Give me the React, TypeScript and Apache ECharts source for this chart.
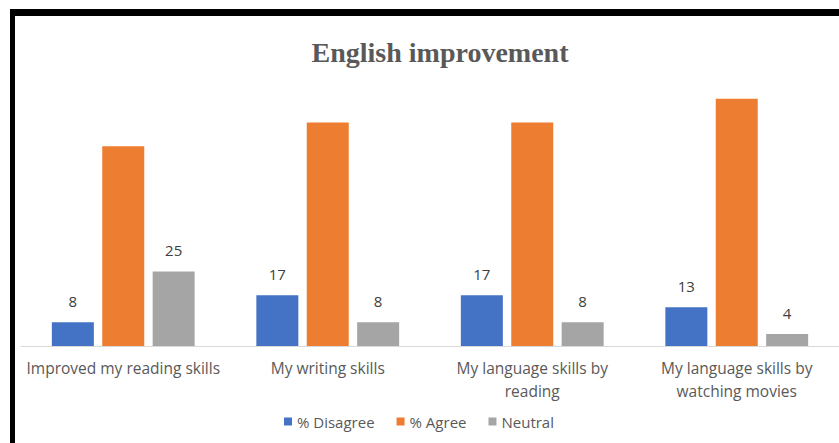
import React, { useEffect, useRef } from "react";
import * as echarts from "echarts";

const categories = [
  "Improved my reading skills",
  "My writing skills",
  "My language skills by\nreading",
  "My language skills by\nwatching movies",
];
const disagree = [8, 17, 17, 13];
const agree = [67, 75, 75, 83];
const neutral = [25, 8, 8, 4];
const seriesNames = ["% Disagree", "% Agree", "Neutral"];
const colors = ["#4472C4", "#ED7D31", "#A5A5A5"];

export default function App() {
  const ref = useRef<HTMLDivElement>(null);
  useEffect(() => {
    if (!ref.current) return;
    const chart = echarts.init(ref.current, null, { renderer: "svg" });
    const font = "'Open Sans', sans-serif";
    const mk = (name: string, data: number[], color: string, showLabel: boolean) => ({
      name,
      type: "bar",
      data,
      barWidth: 42,
      barGap: "20%",
      itemStyle: { color },
      label: {
        show: showLabel,
        position: "top",
        distance: 14,
        color: "#404040",
        fontSize: 15,
        fontFamily: font,
      },
    });
    chart.setOption({
      animation: false,
      backgroundColor: "#ffffff",
      title: {
        text: "English improvement",
        left: 435,
        textAlign: "center",
        top: 33,
        textStyle: {
          fontFamily: "'Liberation Serif', 'DejaVu Serif', serif",
          fontWeight: "bold",
          fontSize: 28,
          color: "#595959",
        },
      },
      legend: {
        data: seriesNames,
        left: 279,
        top: 409,
        icon: "rect",
        itemWidth: 8,
        itemHeight: 8,
        itemGap: 22,
        textStyle: { color: "#595959", fontSize: 15, fontFamily: font },
      },
      grid: { left: 21, width: 820, top: 48, bottom: 97 },
      xAxis: {
        type: "category",
        data: categories,
        axisLine: { show: true, lineStyle: { color: "#D9D9D9", width: 1 } },
        axisTick: { show: false },
        axisLabel: {
          color: "#595959",
          fontSize: 15.5,
          fontFamily: font,
          margin: 10,
          lineHeight: 23,
          interval: 0,
        },
      },
      yAxis: {
        type: "value",
        min: 0,
        max: 100,
        show: false,
        splitLine: { show: false },
      },
      series: [
        mk(seriesNames[0], disagree, colors[0], true),
        mk(seriesNames[1], agree, colors[1], false),
        mk(seriesNames[2], neutral, colors[2], true),
      ],
      graphic: [
        { type: "rect", shape: { x: 10, y: 9, width: 829, height: 7 }, style: { fill: "#000" } },
        { type: "rect", shape: { x: 10, y: 9, width: 5, height: 434 }, style: { fill: "#000" } },
      ],
    });
    return () => chart.dispose();
  }, []);
  return (
    <div
      ref={ref}
      style={{ position: "fixed", left: 0, top: 0, width: 839, height: 443 }}
    />
  );
}
